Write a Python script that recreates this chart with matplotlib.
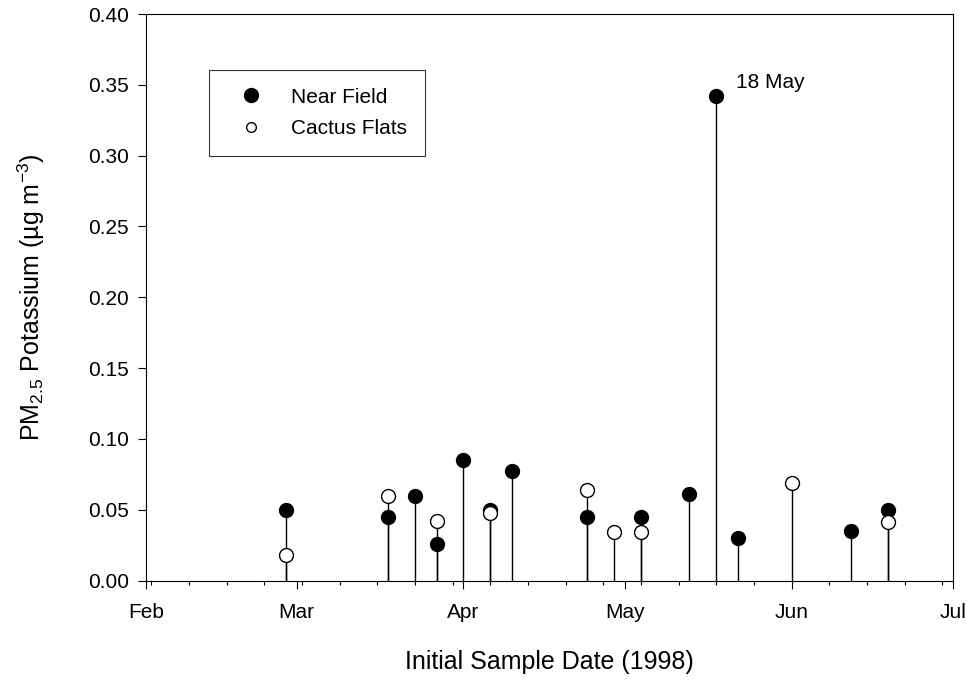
#!/usr/bin/env python3

import matplotlib
matplotlib.use('Agg')
import matplotlib.pyplot as plt
import matplotlib.dates as mdates
from matplotlib.lines import Line2D
import numpy as np

plt.rcParams['font.family'] = ['Liberation Sans', 'DejaVu Sans']
plt.rcParams['mathtext.fontset'] = 'custom'
plt.rcParams['mathtext.rm'] = 'Liberation Sans'
plt.rcParams['mathtext.it'] = 'Liberation Sans'

# data
near_dates = ['1998-02-27', '1998-03-18', '1998-03-23', '1998-03-27', '1998-04-01',
              '1998-04-06', '1998-04-10', '1998-04-24', '1998-05-04', '1998-05-13',
              '1998-05-18', '1998-05-22', '1998-06-12', '1998-06-19']
near_vals = [0.050, 0.045, 0.060, 0.026, 0.085, 0.050, 0.077, 0.045, 0.045, 0.061,
             0.342, 0.030, 0.035, 0.050]

cactus_dates = ['1998-02-27', '1998-03-18', '1998-03-27', '1998-04-06', '1998-04-24',
                '1998-04-29', '1998-05-04', '1998-06-01', '1998-06-19']
cactus_vals = [0.018, 0.060, 0.042, 0.048, 0.064, 0.034, 0.034, 0.069, 0.041]

y_ticks = [0.00, 0.05, 0.10, 0.15, 0.20, 0.25, 0.30, 0.35, 0.40]

near_x = np.array(near_dates, dtype='datetime64[D]')
cactus_x = np.array(cactus_dates, dtype='datetime64[D]')

fig = plt.figure(figsize=(9.67, 6.8), dpi=100)
ax = fig.add_axes([146 / 967, 1 - 580.5 / 680, 807 / 967, 566.5 / 680])

ax.vlines(near_x, 0, near_vals, color='black', lw=1.0, zorder=2)
ax.plot(near_x, near_vals, 'o', color='black', markersize=10, zorder=3)
ax.vlines(cactus_x, 0, cactus_vals, color='black', lw=1.0, zorder=4)
ax.plot(cactus_x, cactus_vals, 'o', markerfacecolor='white', markeredgecolor='black',
        markeredgewidth=1.0, markersize=10, zorder=5)

ax.annotate('18 May', xy=(near_x[10], near_vals[10]), xytext=(14, 10),
            textcoords='offset points', ha='left', va='center', fontsize=15)

ax.set_xlim(np.datetime64('1998-02-01'), np.datetime64('1998-07-01'))
ax.set_ylim(0, 0.40)
ax.set_yticks(y_ticks)
ax.yaxis.set_major_formatter(plt.FormatStrFormatter('%.2f'))
ax.xaxis.set_major_locator(mdates.MonthLocator())
ax.xaxis.set_major_formatter(mdates.DateFormatter('%b'))
ax.xaxis.set_minor_locator(mdates.WeekdayLocator(byweekday=mdates.MO))

ax.tick_params(axis='both', which='major', direction='out', length=5.5, width=0.8,
               labelsize=15)
ax.tick_params(axis='x', which='major', pad=11)
ax.tick_params(axis='y', which='major', pad=7)
ax.tick_params(axis='x', which='minor', direction='out', length=3.1, width=0.8)
for s in ax.spines.values():
    s.set_linewidth(0.8)

ax.set_xlabel('Initial Sample Date (1998)', fontsize=18, labelpad=20)
ax.set_ylabel('PM$_{2.5}$ Potassium (\u00b5g m$^{-3}$)', fontsize=18, labelpad=29)

handles = [
    Line2D([], [], marker='o', linestyle='none', color='black', markersize=10),
    Line2D([], [], marker='o', linestyle='none', markerfacecolor='white',
           markeredgecolor='black', markeredgewidth=1.0, markersize=7),
]
leg = ax.legend(handles, ['Near Field', 'Cactus Flats'], loc='upper left',
                bbox_to_anchor=((209 - 146) / 807, (580.5 - 70) / 566.5),
                fontsize=15, frameon=True, fancybox=False, edgecolor='black',
                borderpad=0.85, labelspacing=0.6, handletextpad=0.8,
                handlelength=2.3, borderaxespad=0)
leg.get_frame().set_linewidth(0.8)

fig.savefig('out.png', dpi=100)
plt.close(fig)
